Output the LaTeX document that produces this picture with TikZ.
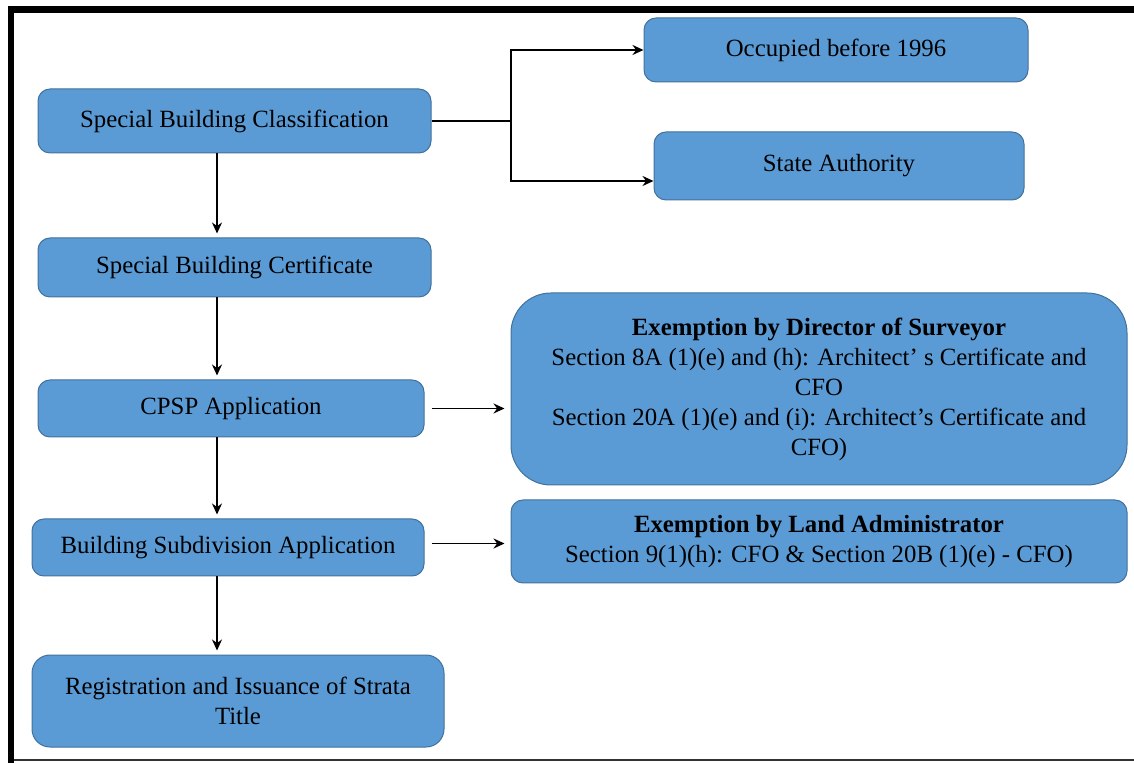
\documentclass[tikz,border=0pt]{standalone}
\usepackage{fontspec}
\setmainfont{Liberation Serif}
\usetikzlibrary{arrows.meta}
\definecolor{boxblue}{HTML}{5B9BD5}
\definecolor{boxedge}{HTML}{41719C}

\begin{document}
\begin{tikzpicture}[x=0.5pt,y=-0.5pt,>={Stealth[length=5.5pt,width=5pt]},
        stage/.style={draw=boxedge,fill=boxblue,line width=0.5pt,rounded corners=6pt,align=center,inner sep=0pt,font=\fontsize{12.4}{15}\selectfont},
        link/.style={->,line width=0.85pt}]
        \useasboundingbox (0,0) rectangle (1134,763);
        \fill (8,6) rectangle (1134,13);
        \fill (8,6) rectangle (14,763);
        \draw[line width=1pt,black!80] (14,760) -- (1134,760);

        \node[stage,minimum width=196.5pt,minimum height=32pt] (classif) at (234.5,121) {Special Building Classification};
        \node[stage,minimum width=192pt,minimum height=32pt] (occupied) at (836,50) {Occupied before 1996};
        \node[stage,minimum width=185pt,minimum height=34pt] (authority) at (839,166) {State Authority};
        \node[stage,minimum width=196.5pt,minimum height=29.5pt] (cert) at (234.5,267.5) {Special Building Certificate};
        \node[stage,minimum width=193pt,minimum height=28.5pt] (cpsp) at (231,408.5) {CPSP Application};
        \node[stage,rounded corners=20pt,minimum width=308pt,minimum height=96pt] (director) at (819,389)
                {\textbf{Exemption by Director of Surveyor}\\Section 8A (1)(e) and (h): Architect’ s Certificate and\\CFO\\Section 20A (1)(e) and (i): Architect’s Certificate and\\CFO)};
        \node[stage,minimum width=196pt,minimum height=28.5pt] (subdiv) at (228,547.5) {Building Subdivision Application};
        \node[stage,minimum width=308pt,minimum height=41.5pt] (landadmin) at (819,541.5)
                {\textbf{Exemption by Land Administrator}\\Section 9(1)(h): CFO \& Section 20B (1)(e) - CFO)};
        \node[stage,rounded corners=9pt,minimum width=206pt,minimum height=46pt] (strata) at (238,701)
                {Registration and Issuance of Strata\\Title};

        \coordinate (spine) at (217,0);
        \coordinate (fork) at (511,121);
        \draw[link] (classif.east) -- (fork) |- (occupied.west);
        \draw[link] (fork) |- ([yshift=-7.5pt]authority.west);
        \draw[link,shorten >=2pt] (classif.south -| spine) -- (cert.north -| spine);
        \draw[link,shorten >=2pt] (cert.south -| spine) -- (cpsp.north -| spine);
        \draw[link,shorten >=2pt] (cpsp.south -| spine) -- (subdiv.north -| spine);
        \draw[link,shorten >=2pt] (subdiv.south -| spine) -- (strata.north -| spine);
        \draw[link,shorten <=3.5pt,shorten >=3pt] (cpsp.east) -- (cpsp.east -| director.west);
        \draw[link,shorten <=3.5pt,shorten >=3pt] ([yshift=2pt]subdiv.east) -- ([yshift=2pt]subdiv.east -| landadmin.west);
\end{tikzpicture}
\end{document}
